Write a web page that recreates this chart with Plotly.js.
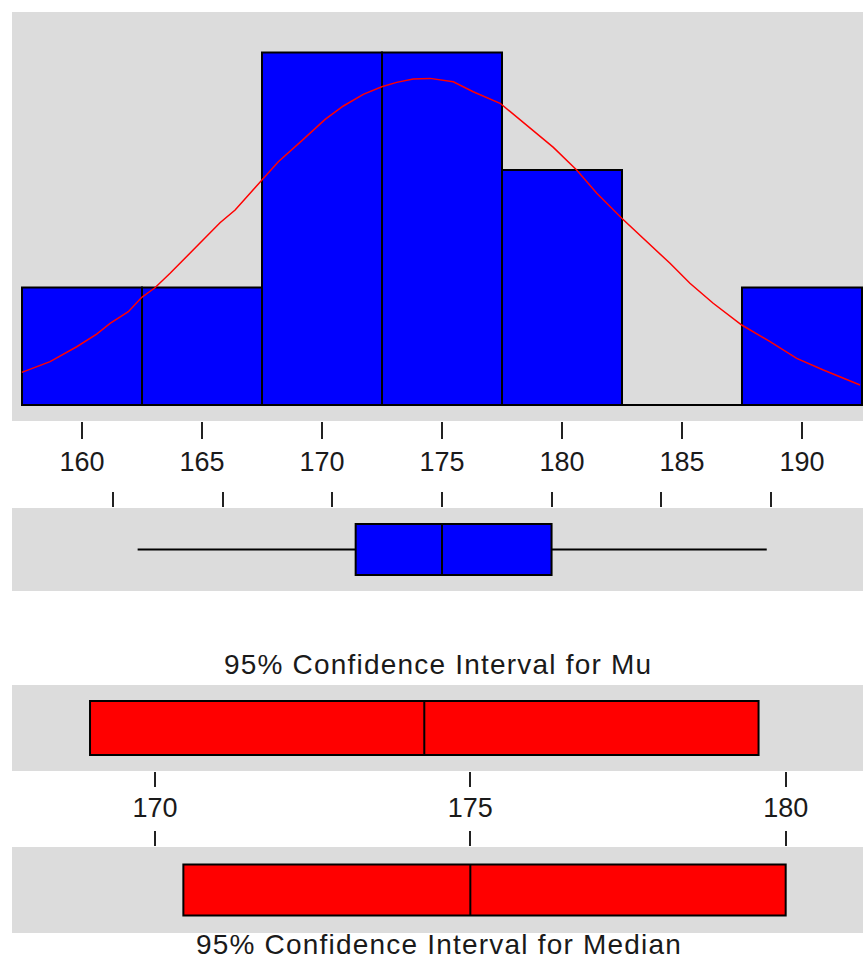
<!DOCTYPE html>
<html>
<head>
<meta charset="utf-8">
<script src="https://cdn.plot.ly/plotly-3.0.1.min.js"></script>
<style>
html,body{margin:0;padding:0;background:#fff;}
.annotation-text{letter-spacing:1.2px;}
</style>
</head>
<body>
<div id="chart" style="width:863px;height:958px;"></div>
<script>
// ---- data ----
const binCenters = [160, 165, 170, 175, 180, 185, 190];
const binCounts  = [1, 1, 3, 3, 2, 0, 1];

const curveX = [157.49,158.67,159.78,160.61,161.17,161.93,162.49,163.04,163.67,164.36,165.33,165.75,166.38,167.49,168.18,169.22,170.13,170.89,171.72,172.49,173.11,173.80,174.50,175.47,176.30,177.42,178.53,179.64,180.61,181.45,182.49,183.53,184.50,185.33,186.30,187.49,188.67,189.78,190.89,192.42];
const curveY = [0.278,0.369,0.496,0.604,0.695,0.794,0.917,0.998,1.121,1.262,1.461,1.551,1.660,1.909,2.071,2.261,2.431,2.545,2.644,2.709,2.746,2.774,2.780,2.751,2.666,2.568,2.383,2.193,2.000,1.802,1.589,1.390,1.206,1.036,0.866,0.681,0.539,0.397,0.298,0.170];

const boxMin = [161.11];
const boxQ1 = [171.06];
const boxMedian = [175.0];
const boxQ3 = [180.0];
const boxMax = [189.82];

const muLower = [168.97];
const muMean = [174.27];
const muUpper = [179.57];

const medLower = [170.45];
const medMedian = [175.0];
const medUpper = [180.0];

const histTicks = [160, 165, 170, 175, 180, 185, 190];
const ciTicks = [170, 175, 180];

const titleMu = "95% Confidence Interval for Mu";
const titleMedian = "95% Confidence Interval for Median";

// ---- layout helpers ----
const W = 863, H = 958;
const py = p => 1 - p / H;
const xDom = [12 / W, 1];
const FONT = "Liberation Sans, Arial, sans-serif";
const TXT = "#1a1a1a";
const GRAY = "#dcdcdc";

const traces = [
  {
    type: "bar", x: binCenters, y: binCounts, width: 5,
    marker: {color: "#0000ff", line: {color: "#000", width: 2}},
    xaxis: "x", yaxis: "y", hoverinfo: "skip"
  },
  {
    type: "scatter", mode: "lines", x: curveX, y: curveY,
    line: {color: "#ff0000", width: 1.5, shape: "linear"},
    xaxis: "x", yaxis: "y", hoverinfo: "skip"
  },
  {
    type: "box", orientation: "h", y: [0],
    q1: boxQ1, median: boxMedian, q3: boxQ3, lowerfence: boxMin, upperfence: boxMax,
    width: 0.614, whiskerwidth: 0, fillcolor: "#0000ff",
    line: {color: "#000", width: 2},
    xaxis: "x2", yaxis: "y2", hoverinfo: "skip"
  },
  {
    type: "box", orientation: "h", y: [0],
    q1: muLower, median: muMean, q3: muUpper, lowerfence: muLower, upperfence: muUpper,
    width: 0.628, whiskerwidth: 0, fillcolor: "#ff0000",
    line: {color: "#000", width: 2},
    xaxis: "x3", yaxis: "y3", hoverinfo: "skip"
  },
  {
    type: "box", orientation: "h", y: [0],
    q1: medLower, median: medMedian, q3: medUpper, lowerfence: medLower, upperfence: medUpper,
    width: 0.593, whiskerwidth: 0, fillcolor: "#ff0000",
    line: {color: "#000", width: 2},
    xaxis: "x4", yaxis: "y4", hoverinfo: "skip"
  }
];

const hiddenY = (dom, rng) => ({domain: dom, range: rng, visible: false, fixedrange: true});
const tickAx = (extra) => Object.assign({
  domain: xDom, showgrid: false, zeroline: false, showline: false,
  ticks: "outside", tickcolor: "#222", tickwidth: 2,
  tickmode: "array", fixedrange: true,
  tickfont: {family: FONT, size: 27, color: TXT}
}, extra);

const layout = {
  width: W, height: H,
  margin: {l: 0, r: 0, t: 0, b: 0, pad: 0},
  paper_bgcolor: "#ffffff", plot_bgcolor: GRAY,
  showlegend: false, bargap: 0,
  xaxis: tickAx({anchor: "y", range: [157.083, 192.542], tickvals: histTicks, ticktext: histTicks.map(String), ticklen: 17}),
  yaxis: hiddenY([py(421), py(12)], [-0.136, 3.345]),
  xaxis2: tickAx({anchor: "y2", side: "top", range: [155.377, 194.213], tickvals: histTicks, showticklabels: false, ticklen: 15}),
  yaxis2: hiddenY([py(591), py(508)], [-0.5, 0.5]),
  xaxis3: tickAx({anchor: "y3", range: [167.733, 181.226], tickvals: ciTicks, ticktext: ciTicks.map(String), ticklen: 15, ticklabelstandoff: -2}),
  yaxis3: hiddenY([py(771), py(685)], [-0.5, 0.5]),
  xaxis4: tickAx({anchor: "y4", side: "top", range: [167.733, 181.226], tickvals: ciTicks, showticklabels: false, ticklen: 15}),
  yaxis4: hiddenY([py(933), py(847)], [-0.5, 0.5]),
  annotations: [
    {text: titleMu, xref: "paper", yref: "paper", x: 438 / W, y: py(664), xanchor: "center", yanchor: "middle",
     showarrow: false, font: {family: FONT, size: 28, color: TXT}},
    {text: titleMedian, xref: "paper", yref: "paper", x: 439 / W, y: py(944), xanchor: "center", yanchor: "middle",
     height: 26, valign: "middle",
     showarrow: false, font: {family: FONT, size: 28, color: TXT}}
  ]
};

Plotly.newPlot("chart", traces, layout, {staticPlot: true, displayModeBar: false});
</script>
</body>
</html>
